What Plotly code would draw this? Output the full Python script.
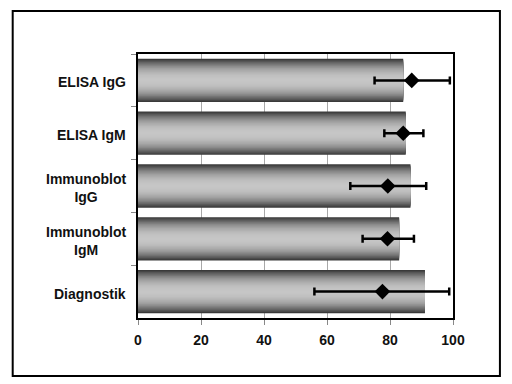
import plotly.graph_objects as go

categories = ["ELISA IgG", "ELISA IgM", "Immunoblot IgG", "Immunoblot IgM", "Diagnostik"]
labels = ["ELISA IgG", "ELISA IgM", "Immunoblot<br>IgG", "Immunoblot<br>IgM", "Diagnostik"]
bar_values = [84.2, 85.0, 86.5, 82.9, 91.1]
point_values = [86.9, 84.2, 79.3, 79.2, 77.6]
err_plus = [12.1, 6.4, 12.2, 8.4, 21.2]
err_minus = [11.8, 6.0, 11.9, 7.9, 21.6]
x_ticks = [0, 20, 40, 60, 80, 100]

FONT = dict(family="Liberation Sans, Arial", size=14, color="#111111", weight="bold")
ANN_FONT = dict(family="Liberation Sans, Arial", size=14, color="#111111")

fig = go.Figure()

# gradient bars built from overlaid layers
N = 18
full_w = 0.82
for k in range(N):
    t = (N - k) / N
    lum = int(round(198 - 140 * t ** 2.2))
    col = f"rgb({lum},{lum},{lum})"
    fig.add_trace(go.Bar(
        x=bar_values, y=categories, orientation="h",
        width=full_w * t, marker=dict(color=col, line=dict(width=0)),
        showlegend=False, hoverinfo="skip"))

fig.add_trace(go.Scatter(
    x=point_values, y=categories, mode="markers",
    marker=dict(symbol="diamond", size=12, color="black"),
    error_x=dict(type="data", array=err_plus, arrayminus=err_minus,
                 color="black", thickness=2.5, width=4),
    showlegend=False))

# page body has an 8px margin; coordinates below are figure pixels
W, H = 512, 384
L, T = 129.5, 46
PR, PB = 445, 310
R, B = W - PR, H - PB
pw, ph = PR - L, PB - T

for cat, lab in zip(categories, labels):
    fig.add_annotation(x=(119.5 - L) / pw, xref="paper", y=cat, yref="y",
                       text="<b>" + lab + "</b>", showarrow=False, xanchor="right",
                       align="center", yshift=-2, font=ANN_FONT)

# outer frame
fig.add_shape(type="rect", xref="paper", yref="paper",
              x0=(4 - L) / pw, x1=(492 - L) / pw,
              y0=(PB - 368) / ph, y1=(PB - 3) / ph,
              line=dict(color="black", width=2), fillcolor="rgba(0,0,0,0)", layer="below")

fig.update_layout(
    width=W, height=H, barmode="overlay",
    margin=dict(l=L, r=R, t=T, b=B, autoexpand=False),
    paper_bgcolor="white", plot_bgcolor="white",
    font=FONT,
    xaxis=dict(range=[0, 100], tickvals=x_ticks, ticktext=[str(v) for v in x_ticks],
               showgrid=True, gridcolor="#a8a8a8", gridwidth=1,
               ticks="outside", ticklen=5, tickcolor="#888888", ticklabelstandoff=3,
               showline=True, linecolor="black", linewidth=1.5, mirror=True,
               tickfont=FONT, zeroline=False, fixedrange=True),
    yaxis=dict(type="category", categoryorder="array", categoryarray=categories,
               autorange="reversed", showticklabels=False, showgrid=False,
               ticks="outside", ticklen=5, tickcolor="#888888", tickson="boundaries",
               showline=True, linecolor="black", linewidth=1.5, mirror=True,
               fixedrange=True),
)

fig.write_html("out.html")
